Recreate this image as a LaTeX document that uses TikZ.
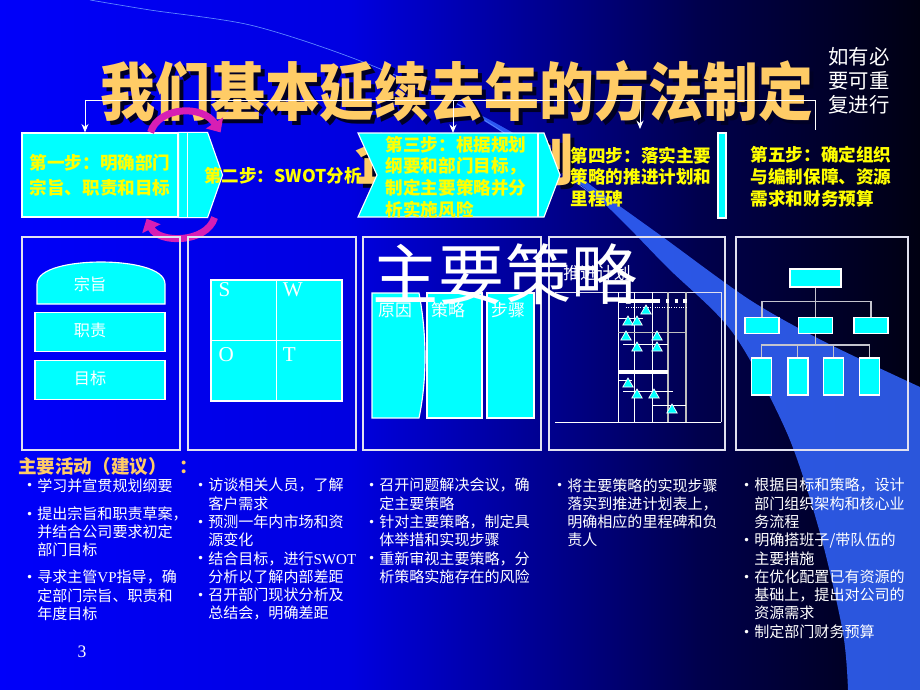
\documentclass[tikz,border=0pt]{standalone}
\usepackage{fontspec}
\setmainfont{Liberation Serif}
\newfontfamily\cjk{Noto Sans CJK SC}
\newfontfamily\dejavu{DejaVu Sans}
\usetikzlibrary{positioning,calc,arrows.meta,shapes.geometric}
\definecolor{beam}{RGB}{51,102,255}
\definecolor{boxcyan}{RGB}{0,255,255}
\definecolor{titleorange}{RGB}{255,204,102}
\definecolor{stepyellow}{RGB}{255,255,0}
\definecolor{framegray}{RGB}{225,225,240}
\definecolor{loopmagenta}{RGB}{215,30,180}
\pgfdeclarehorizontalshading{slidebg}{100bp}{rgb(0bp)=(0,0,0.98); rgb(25bp)=(0,0,0.98); rgb(44bp)=(0,0,0.88); rgb(55bp)=(0,0,0.55); rgb(63bp)=(0,0,0.3); rgb(75bp)=(0,0,0.07); rgb(100bp)=(0,0,0.07)}
\newcommand{\itm}{\llap{\raisebox{0.8pt}{\dejavu\fontsize{8.5}{8.5}\selectfont •}\hspace{3pt}}}

\begin{document}
\begin{tikzpicture}[x=0.025cm, y=-0.025cm,
  panelframe/.style={draw=framegray, line width=1pt},
  cyanbox/.style={draw=white, fill=boxcyan, line width=0.8pt, inner sep=0pt},
  steptext/.style={font=\cjk\bfseries\fontsize{12.5}{15.5}\selectfont, text=stepyellow, align=left, inner sep=0pt},
  boxlabel/.style={font=\cjk\fontsize{11.5}{13}\selectfont, text=white, inner sep=0pt},
  swotlabel/.style={font=\fontsize{15}{15}\selectfont, text=white, inner sep=0pt, anchor=north west},
  titletext/.style={font=\cjk\bfseries\fontsize{39}{39}\selectfont, inner sep=0pt},
  activity/.style={font=\cjk\fontsize{10.7}{13}\selectfont, text=white, align=left, inner sep=0pt, anchor=north west},
  rail/.style={draw=white, line width=0.7pt},
  arrowloop/.style={draw=loopmagenta, line width=5pt, -{Triangle[length=8pt,width=14pt]}},
  milestone/.style={regular polygon, regular polygon sides=3, draw=white, fill=boxcyan, line width=0.5pt, minimum size=0.3cm, inner sep=0pt},
  chartline/.style={draw=white, line width=0.7pt},
  orgbox/.style={cyanbox, line width=1pt},
  leafbox/.style={orgbox, minimum width=0.5cm, minimum height=0.925cm},
  orgline/.style={draw=framegray!70!gray, line width=0.9pt}]
  \shade[shading=slidebg] (0,0) rectangle (920,690);
  \useasboundingbox (0,0) rectangle (920,690);
  \fill[beam, opacity=0.85] plot[smooth] coordinates {(450,100) (530,150) (600,200) (667,267) (733,333) (787,433) (820,533) (843,633) (848,690)} -- (920,690) -- (920,387) -- plot[smooth] coordinates {(920,387) (827,343) (750,300) (660,235) (600,192) (545,152) (490,120) (450,100)} -- cycle;
  \draw[beam!80!white, line width=0.5pt] plot[smooth] coordinates {(90,0) (150,10) (250,25) (350,57) (450,100) (530,150) (600,200)};

  % TITULO
  \node[titletext, text=black!85!blue] (titleshadow) at (461,95) {\scalebox{1}[1.15]{我们基本延续去年的方法制定}};
  \node[titletext, text=titleorange] (title) at (457,91) {\scalebox{1}[1.15]{我们基本延续去年的方法制定}};
  \node[titletext, text=black!85!blue] (subtitleshadow) at (469,164) {企业计划};
  \node[titletext, text=titleorange] (subtitle) at (465,160) {企业计划};
  \node[font=\cjk\fontsize{14.5}{17}\selectfont, text=white, align=center, inner sep=0pt] (repeatnote) at (859,81) {如有必\\要可重\\复进行};

  % PASOS
  \node[cyanbox, steptext, align=center, minimum width=3.9cm, minimum height=2.1cm] (step1) at (100,175) {第一步：明确部门\\[2pt]宗旨、职责和目标};
  \draw[cyanbox] (step1.north east) -- ++(29,0) -- ($(step1.east)+(44,0)$) -- ($(step1.south east)+(29,0)$) -- (step1.south east) -- cycle;
  \draw[white, line width=0.8pt] ($(step1.north east)+(9,0)$) -- ($(step1.south east)+(9,0)$);
  \draw[arrowloop] ($(step1.north east)+(-28,0)$) .. controls ($(step1.north east)+(-20,-26)$) and ($(step1.north east)+(24,-28)$) .. ($(step1.north east)+(42,0)$);
  \draw[arrowloop] ($(step1.south east)+(36,0)$) .. controls ($(step1.south east)+(28,26)$) and ($(step1.south east)+(-20,26)$) .. ($(step1.south east)+(-32,1)$);
  \node[steptext] (step2) at (283,176) {第二步：SWOT分析};
  \draw[cyanbox] (358,133) -- (544,133) -- (560,175) -- (544,217) -- (358,217) -- (377,175) -- cycle;
  \draw[white, line width=0.8pt] (538,133) -- (538,217);
  \node[steptext] (step3) at (456,177) {第三步：根据规划\\纲要和部门目标，\\制定主要策略并分\\析实施风险};
  \node[steptext] (step4) at (641,177) {第四步：落实主要\\策略的推进计划和\\里程碑};
  \draw[cyanbox] (718,133) rectangle (726,218);
  \node[steptext] (step5) at (821,177) {第五步：确定组织\\与编制保障、资源\\需求和财务预算};

  \coordinate (railwest) at (85,100);
  \coordinate (raileast) at (815,100);
  \coordinate (railend) at (815,130);
  \coordinate (step3top) at (453,133);
  \coordinate (step4top) at (640,129);
  \draw[rail] (railwest) -- (raileast) -- (railend);
  \draw[rail, -{Stealth[length=6pt,width=5pt]}] (railwest) -- (railwest |- step1.north);
  \draw[rail, -{Stealth[length=6pt,width=5pt]}] (raileast -| step3top) -- (step3top);
  \draw[rail, -{Stealth[length=6pt,width=5pt]}] (raileast -| step4top) -- (step4top);

  % PANELES
  \draw[panelframe] (22,237) rectangle (180,450);
  \draw[panelframe] (188,237) rectangle (356,450);
  \draw[panelframe] (363,237) rectangle (541,450);
  \draw[panelframe] (549,237) rectangle (725,450);
  \draw[panelframe] (736,237) rectangle (908,450);

  \draw[cyanbox] (37,304) -- (37,284) .. controls (37,268) and (72,262) .. (101,262) .. controls (130,262) and (165,268) .. (165,284) -- (165,304) -- cycle;
  \coordinate (domebase) at (100,304);
  \node[boxlabel] (zongzhi) at (90,284) {宗旨};
  \node[cyanbox, minimum width=3.25cm, minimum height=0.975cm, below=0.2cm of domebase] (zhize) {};
  \node[cyanbox, minimum width=3.25cm, minimum height=0.975cm, below=0.2cm of zhize] (mubiao) {};
  \node[boxlabel] (zhizelabel) at ($(zhize)+(-10,-2)$) {职责};
  \node[boxlabel] (mubiaolabel) at ($(mubiao)+(-10,-2)$) {目标};

  \node[cyanbox, minimum width=3.275cm, minimum height=3.025cm] (swot) at (276.5,340.5) {};
  \draw[white, line width=0.8pt] (swot.north) -- (swot.south) (swot.west) -- (swot.east);
  \node[swotlabel] (s) at ($(swot.north west)+(8,3)$) {S};
  \node[swotlabel] (w) at ($(swot.north)+(6,3)$) {W};
  \node[swotlabel] (o) at ($(swot.west)+(8,7)$) {O};
  \node[swotlabel] (t) at ($(swot.center)+(6,7)$) {T};

  \draw[cyanbox] (372,293) -- (419,293) .. controls (427,335) and (427,380) .. (419,418) -- (372,418) -- cycle;
  \node[cyanbox, minimum width=1.375cm, minimum height=3.125cm] (celue) at (454.5,355.5) {};
  \node[cyanbox, minimum width=1.175cm, minimum height=3.125cm] (buzhou) at (510.5,355.5) {};
  \node[boxlabel, font=\cjk\fontsize{12}{12}\selectfont] (yuanyinlabel) at (395,310) {原因};
  \node[boxlabel, font=\cjk\fontsize{12}{12}\selectfont] (celuelabel) at (448,310) {策略};
  \node[boxlabel, font=\cjk\fontsize{12}{12}\selectfont] (buzhoulabel) at (508,310) {步骤};

  % PLAN DE AVANCE
  \draw[chartline, draw=framegray] (555,292) -- (721,292) -- (721,422);
  \draw[chartline] (555,422) -- (721,422);
  \draw[chartline] (618,292) -- (618,422) (634,292) -- (634,422) (652,292) -- (652,422);
  \draw[chartline, draw=lightgray, line width=1.1pt] (668,292) -- (668,422) (686,292) -- (686,422);
  \draw[chartline, line width=2.2pt] (618,301) -- (660,301);
  \draw[chartline, line width=2.2pt, dash pattern=on 2.2pt off 4pt] (666,301) -- (690,301);
  \draw[chartline, densely dotted] (626,307) -- (686,307);
  \draw[chartline] (618,318) -- (643,318) (623,344) -- (668,344);
  \draw[chartline, draw=lightgray] (618,332) -- (686,332);
  \draw[chartline, line width=2.2pt] (618,372) -- (668,372);
  \draw[chartline] (618,380) -- (632,380) (623,391) -- (673,391) (652,405) -- (686,405);
  \path node[milestone] (ms1) at (646,311) {} node[milestone] (ms2) at (628,322) {}
        node[milestone] (ms3) at (637,322) {} node[milestone] (ms4) at (626,337) {}
        node[milestone] (ms5) at (657,337) {} node[milestone] (ms6) at (637,348) {}
        node[milestone] (ms7) at (657,348) {} node[milestone] (ms8) at (628,384) {}
        node[milestone] (ms9) at (637,395) {} node[milestone] (ms10) at (654,395) {}
        node[milestone] (ms11) at (672,410) {};
  \node[font=\cjk\fontsize{12}{12}\selectfont, text=white, inner sep=0pt] (tuijin) at (597,273) {推进计划};
  \node[font=\cjk\fontsize{47}{47}\selectfont, text=white, inner sep=0pt] (zhuyaocelue) at (505,274) {主要策略};

  % ORGANIGRAMA
  \node[orgbox, minimum width=1.275cm, minimum height=0.45cm] (orgtop) at (815.5,278) {};
  \node[orgbox, minimum width=0.85cm, minimum height=0.4cm, below=0.725cm of orgtop] (orgmid) {};
  \node[orgbox, minimum width=0.85cm, minimum height=0.4cm, left=0.45cm of orgmid] (orgleft) {};
  \node[orgbox, minimum width=0.85cm, minimum height=0.4cm, right=0.5cm of orgmid] (orgright) {};
  \node[leafbox, below=0.575cm of orgmid.south west] (leafb) {};
  \node[leafbox, below=0.575cm of orgmid.south east] (leafc) {};
  \node[leafbox, left=0.375cm of leafb] (leafa) {};
  \node[leafbox, right=0.375cm of leafc] (leafd) {};
  \draw[orgline] (orgtop.south) -- ++(0,14) -| (orgleft.north);
  \draw[orgline] (orgtop.south) -- ++(0,14) -| (orgright.north);
  \draw[orgline] (orgtop.south) -- (orgmid.north);
  \draw[orgline] (orgmid.south) -- ++(0,11) -| (leafa.north);
  \draw[orgline] (orgmid.south) -- ++(0,11) -| (leafb.north);
  \draw[orgline] (orgmid.south) -- ++(0,11) -| (leafc.north);
  \draw[orgline] (orgmid.south) -- ++(0,11) -| (leafd.north);

  % ACTIVIDADES
  \node[font=\cjk\bfseries\fontsize{13.2}{13.2}\selectfont, text=titleorange, anchor=base west, inner sep=0pt] (activitytitle) at (18,473) {主要活动（建议）\hspace{9pt}：};
  \node[activity] (act1) at (37,478) {\itm 学习并宣贯规划纲要\\[7pt]
    \itm 提出宗旨和职责草案，\\并结合公司要求初定\\部门目标\\[6.2pt]
    \itm 寻求主管{\rmfamily VP}指导，确\\定部门宗旨、职责和\\年度目标};
  \node[activity] (act2) at (208,478) {\itm 访谈相关人员，了解\\客户需求\\
    \itm 预测一年内市场和资\\源变化\\
    \itm 结合目标，进行{\rmfamily SWOT}\\分析以了解内部差距\\
    \itm 召开部门现状分析及\\总结会，明确差距};
  \node[activity] (act3) at (379,478) {\itm 召开问题解决会议，确\\定主要策略\\
    \itm 针对主要策略，制定具\\体举措和实现步骤\\
    \itm 重新审视主要策略，分\\析策略实施存在的风险};
  \node[activity] (act4) at (567,478) {\itm 将主要策略的实现步骤\\落实到推进计划表上，\\明确相应的里程碑和负\\责人};
  \node[activity] (act5) at (754,478) {\itm 根据目标和策略，设计\\部门组织架构和核心业\\务流程\\
    \itm 明确搭班子/带队伍的\\主要措施\\
    \itm 在优化配置已有资源的\\基础上，提出对公司的\\资源需求\\
    \itm 制定部门财务预算};
  \node[font=\fontsize{12.5}{12.5}\selectfont, text=white, inner sep=0pt] (pagenum) at (82,652) {3};
\end{tikzpicture}
\end{document}
